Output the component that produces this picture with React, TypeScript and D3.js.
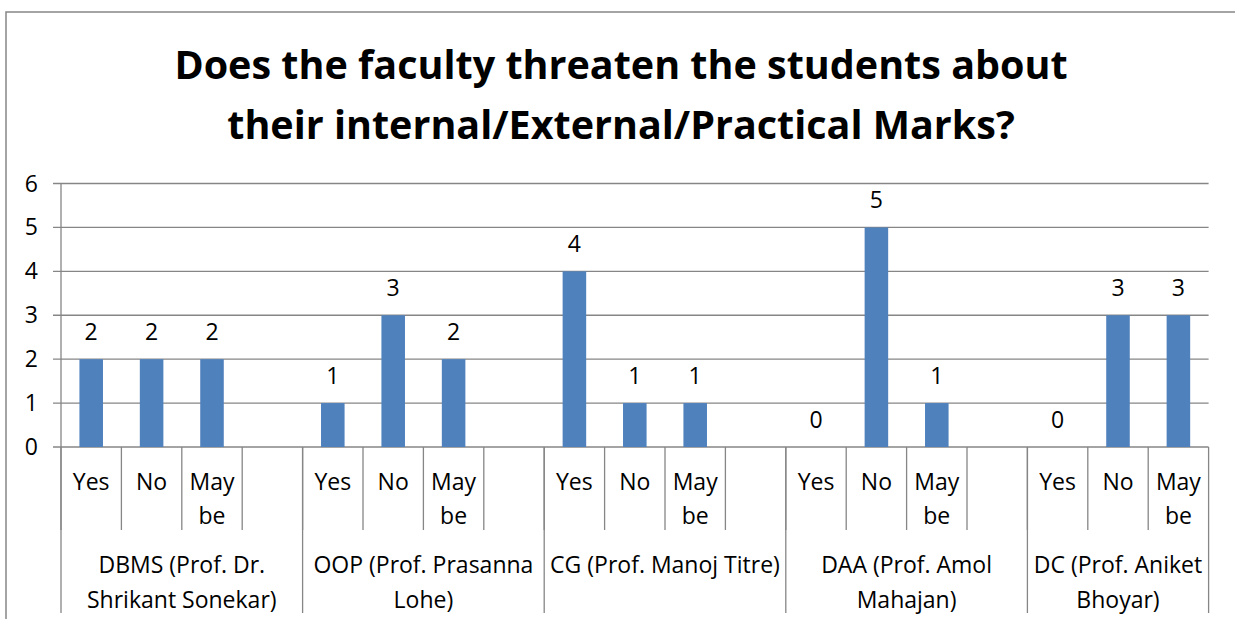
import React from "react";
import * as d3 from "d3";

// survey answers per faculty member
const groupLabels = [
  ["DBMS (Prof. Dr.", "Shrikant Sonekar)"],
  ["OOP (Prof. Prasanna", "Lohe)"],
  ["CG (Prof. Manoj Titre)"],
  ["DAA (Prof. Amol", "Mahajan)"],
  ["DC (Prof. Aniket", "Bhoyar)"],
];
const answers = ["Yes", "No", "Maybe"];
const answerLines: Record<string, string[]> = { Yes: ["Yes"], No: ["No"], Maybe: ["May", "be"] };
const dbms = [2, 2, 2];
const oop = [1, 3, 2];
const cg = [4, 1, 1];
const daa = [0, 5, 1];
const dc = [0, 3, 3];
const seriesValues = [dbms, oop, cg, daa, dc];
const yTicks = [0, 1, 2, 3, 4, 5, 6];
const title = ["Does the faculty threaten the students about", "their internal/External/Practical Marks?"];

const W = 1235;
const H = 619;
const FONT = "'Open Sans', 'Noto Sans', sans-serif";
const GRID = "#868686";
const BAR = "#4F81BD";

// slot list: three answers per group plus one empty slot between groups
const slots: { key: string; g: number; a: number }[] = [];
groupLabels.forEach((_, g) => {
  answers.forEach((_, a) => slots.push({ key: g + "-" + a, g, a }));
  if (g < groupLabels.length - 1) slots.push({ key: g + "-gap", g, a: -1 });
});

export default function App() {
  const left = 61;
  const right = 1208.6;
  const top = 183.5;
  const bottom = 447;
  const fs = 23;

  const x = d3.scaleBand<string>().domain(slots.map((s) => s.key)).range([left, right]).padding(0);
  const y = d3.scaleLinear().domain([0, 6]).range([bottom, top]);
  const bw = x.bandwidth();
  const barW = bw * 0.39;

  const bars = slots
    .filter((s) => s.a >= 0)
    .map((s) => ({ ...s, v: seriesValues[s.g][s.a] }));

  // group edges
  const groupEdges = groupLabels.map((_, g) => {
    const gs = slots.filter((s) => s.g === g);
    const x0 = x(gs[0].key)!;
    const x1 = x(gs[gs.length - 1].key)! + bw;
    return { x0, x1 };
  });

  return (
    <svg width={W} height={H} style={{ position: "absolute", left: 0, top: 0, background: "#fff" }}>
      <rect x={6} y={12} width={W + 20} height={H + 20} fill="#fff" stroke={GRID} strokeWidth={1.5} />
      <g fontFamily={FONT} fontWeight="bold" fontSize={39.5} textAnchor="middle" fill="#000">
        {title.map((t, i) => (
          <text key={i} x={621} y={79 + i * 60}>{t}</text>
        ))}
      </g>
      {/* gridlines */}
      {yTicks.map((t) => (
        <g key={t}>
          <line x1={53} x2={right} y1={y(t)} y2={y(t)} stroke={GRID} strokeWidth={1.3} />
          <text x={38} y={y(t) + 8} textAnchor="end" fontFamily={FONT} fontSize={fs} fill="#000">{t}</text>
        </g>
      ))}
      <line x1={left} x2={left} y1={top} y2={bottom} stroke={GRID} strokeWidth={1.3} />
      {/* bars */}
      {bars.map((b) => (
        <rect key={b.key} x={x(b.key)! + (bw - barW) / 2} y={y(b.v)} width={barW} height={y(0) - y(b.v)} fill={BAR} />
      ))}
      {bars.map((b) => (
        <text key={"l" + b.key} x={x(b.key)! + bw / 2} y={y(b.v) - 19} textAnchor="middle" fontFamily={FONT} fontSize={fs} fill="#000">{b.v}</text>
      ))}
      {/* category axis, first level */}
      {slots.map((s) => (
        <line key={"t" + s.key} x1={x(s.key)!} x2={x(s.key)!} y1={bottom} y2={530} stroke={GRID} strokeWidth={1.3} />
      ))}
      {slots.filter((s) => s.a >= 0).map((s) => (
        <g key={"a" + s.key}>
          {answerLines[answers[s.a]].map((ln, i) => (
            <text key={i} x={x(s.key)! + bw / 2} y={490 + i * 34} textAnchor="middle" fontFamily={FONT} fontSize={fs} fill="#000">{ln}</text>
          ))}
        </g>
      ))}
      {/* second level */}
      {groupEdges.map((e, g) => (
        <g key={"g" + g}>
          <line x1={e.x0} x2={e.x0} y1={bottom} y2={613} stroke={GRID} strokeWidth={1.3} />
          {g === groupEdges.length - 1 && (
            <line x1={e.x1} x2={e.x1} y1={bottom} y2={613} stroke={GRID} strokeWidth={1.3} />
          )}
          {groupLabels[g].map((ln, i) => (
            <text key={i} x={(e.x0 + e.x1) / 2} y={573 + i * 35} textAnchor="middle" fontFamily={FONT} fontSize={fs} fill="#000">{ln}</text>
          ))}
        </g>
      ))}
    </svg>
  );
}
